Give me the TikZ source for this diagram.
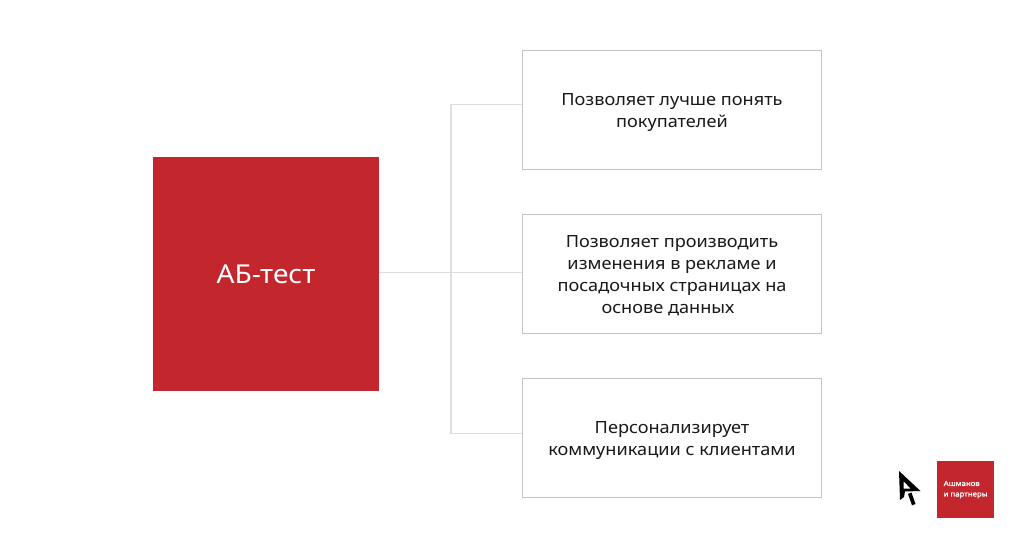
\documentclass[tikz,border=0pt]{standalone}
\usepackage{fontspec}
\setmainfont[FakeStretch=1.08]{Noto Sans}
\newfontfamily\logofont[FakeStretch=1.08,FakeBold=1.2]{Noto Sans}
\definecolor{brand}{HTML}{C4262E}
\definecolor{boxline}{HTML}{C4C4C4}
\definecolor{linkline}{HTML}{DEDEDE}
\tikzset{
  x=1pt,y=-1pt,
  infobox/.style={draw=boxline,line width=1.2pt,fill=white,minimum width=299pt,minimum height=119pt,inner sep=0pt},
  infotext/.style={inner sep=0pt,align=center,font=\fontsize{16.8}{22}\selectfont,text=black!90,yshift=-2.5pt},
  link/.style={draw=linkline,line width=1.3pt},
}
\begin{document}
\begin{tikzpicture}
\useasboundingbox (0,0) rectangle (1024,548);
\node[fill=brand,minimum width=226pt,minimum height=234pt,inner sep=0pt,text=white,font=\fontsize{26}{30}\selectfont] (main) at (266,274) {АБ-тест};
\node[infobox] (b1) at (672,110) {};
\node[infobox] (b2) at (672,274) {};
\node[infobox] (b3) at (672,438) {};
\node[infotext] (t1) at (b1.center) {Позволяет лучше понять\\покупателей};
\node[infotext,yshift=1pt] (t2) at (b2.center) {Позволяет производить\\изменения в рекламе и\\посадочных страницах на\\основе данных\hspace*{8pt}};
\node[infotext] (t3) at (b3.center) {Персонализирует\\коммуникации с клиентами};
\coordinate (j) at (451,272.5);
\draw[link] (main.east |- j) -- (b2.west |- j);
\draw[link] (b1.west |- 0,104.5) -| (j);
\draw[link] (b3.west |- 0,433.5) -| (j);
\node[fill=brand,minimum width=57pt,minimum height=57pt,inner sep=0pt] (logo) at (965.5,489.5) {};
\node[anchor=west,inner sep=0pt,align=left,text=white,font=\fontsize{7.2}{10.5}\logofont] (logotext) at (943.5,489.5) {Ашманов\\и партнеры};
\fill[black,even odd rule] (899,471) -- (920.5,491) -- (905,491.5) -- (904,497) -- (900,500) -- cycle
  (903.5,481) -- (910.5,488.5) -- (903.5,488.5) -- cycle;
\fill[black] (908,494) -- (911.5,492.5) -- (915.5,504) -- (912,505.3) -- cycle;
\end{tikzpicture}
\end{document}
